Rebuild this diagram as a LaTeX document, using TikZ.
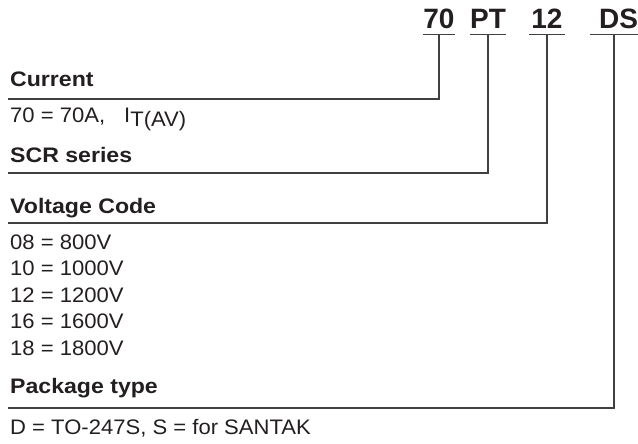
\documentclass[tikz,border=0pt]{standalone}
\usepackage{fontspec}
\setmainfont{Liberation Sans}
\newfontfamily\headfont{Liberation Sans}[FakeStretch=1.1]
\newfontfamily\entryfont{Liberation Sans}[FakeStretch=1.05]
\usetikzlibrary{positioning}
\definecolor{ink}{HTML}{231F20}
\begin{document}
\begin{tikzpicture}[x=1pt,y=-1pt,
  rule/.style={draw=black!75, line width=1.2pt},
  codebox/.style={font=\fontsize{28}{30}\selectfont\bfseries, text=ink, inner sep=0pt, anchor=base, text depth=5pt},
  heading/.style={font=\fontsize{21}{23}\selectfont\headfont\bfseries, text=ink, inner sep=0pt, anchor=base west},
  entry/.style={font=\fontsize{21}{23}\selectfont\entryfont, text=ink, inner sep=0pt, anchor=base west}]
        \useasboundingbox (0,0) rectangle (638,444);

        % Part number codes
        \node[codebox, minimum width=32pt] (c70) at (439,29) {70};
        \node[codebox, minimum width=36pt] (cpt) at (488,29) {PT};
        \node[codebox, minimum width=36pt] (c12) at (547,29) {12};
        \node[codebox, minimum width=48pt, text width=48pt, align=right] (cds) at (614,29) {DS};
        \foreach \n in {c70,cpt,c12,cds}
            \draw[rule] (\n.south west) -- (\n.south east);

        % Headings and entries
        \node[heading] (hcur) at (10,87) {Current};
        \node[entry] (ecur) at (10,122) {70 = 70A,\hspace{19pt}I\raisebox{-4pt}{T(AV)}};
        \node[heading] (hscr) at (10,162) {SCR series};
        \node[heading] (hvol) at (10,213) {Voltage Code};
        \foreach \c/\v [count=\i] in {08/800,10/1000,12/1200,16/1600,18/1800}
            \node[entry] (v\i) at (10,{249+26.5*(\i-1)}) {\c\ = \v V};
        \node[heading] (hpkg) at (10,393) {Package type};
        \node[entry] (epkg) at (10,434) {D = TO-247S, S = for SANTAK};

        % Leader lines
        \coordinate (rcur) at (8,99);
        \coordinate (rscr) at (8,173);
        \coordinate (rvol) at (8,223);
        \coordinate (rpkg) at (8,408);
        \draw[rule] (c70.south) |- (rcur);
        \draw[rule] (cpt.south) |- (rscr);
        \draw[rule] (c12.south) |- (rvol);
        \draw[rule] (cds.south) |- (rpkg);
\end{tikzpicture}
\end{document}
